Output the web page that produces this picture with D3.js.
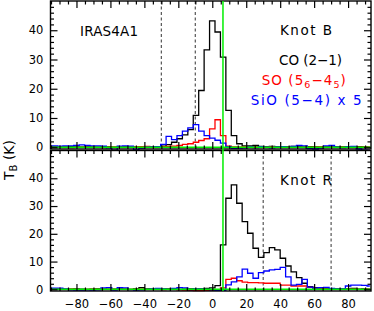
<!DOCTYPE html>
<html><head><meta charset="utf-8">
<script src="https://cdn.jsdelivr.net/npm/d3@7"></script>
<style>body{margin:0;background:#fff}svg{display:block}</style>
</head><body><svg id="c" width="374" height="311"></svg>
<script>
// channel velocities (km/s)
const velocity = [-96.0,-92.8,-89.6,-86.4,-83.2,-80.0,-76.8,-73.6,-70.4,-67.2,-64.0,-60.8,-57.6,-54.4,-51.2,-48.0,-44.8,-41.6,-38.4,-35.2,-32.0,-28.8,-25.6,-22.4,-19.2,-16.0,-12.8,-9.6,-6.4,-3.2,0.0,3.2,6.4,9.6,12.8,16.0,19.2,22.4,25.6,28.8,32.0,35.2,38.4,41.6,44.8,48.0,51.2,54.4,57.6,60.8,64.0,67.2,70.4,73.6,76.8,80.0,83.2,86.4,89.6,92.8];
// Knot B
const coB = [0.1,0.2,0.0,0.1,0.2,0.1,0.0,0.2,0.1,0.0,0.2,0.1,0.0,0.1,0.2,0.1,0.0,0.1,0.2,0.1,
 0.2,0.4,0.9,1.7,2.9,4.2,6.0,10.9,19.4,33.3,
 43.2,39.4,30.8,12.6,4.0,1.2,0.5,0.5,0.6,0.3,
 0.2,0.3,0.2,0.1,0.2,0.3,0.2,0.1,0.2,0.1,
 0.0,0.2,0.1,0.2,0.1,0.0,0.1,0.2,0.1,0.0];
const soB = [0.0,0.0,0.1,0.0,-0.1,0.0,0.0,0.1,0.0,0.0,-0.1,0.0,0.0,0.1,0.0,0.0,0.1,0.2,0.3,0.2,
 0.1,0.2,0.3,0.4,0.6,1.0,1.2,1.7,2.3,2.9,
 6.3,9.4,4.0,0.4,0.1,0.0,0.1,0.0,0.1,0.0,
 0.0,0.1,0.0,0.0,0.1,0.0,0.0,0.1,0.0,0.0,0.1,0.0,0.0,0.1,0.0,0.0,0.1,0.0,0.0,0.0];
const sioB = [0.5,0.5,0.4,0.5,0.5,0.6,0.8,0.6,0.5,0.5,0.4,-0.2,-1.1,0.4,0.5,0.4,-0.9,-0.3,0.0,0.1,
 0.2,1.0,3.7,2.6,4.0,5.5,6.6,7.7,5.5,4.0,
 3.1,2.4,1.4,0.2,-0.4,-0.3,-0.2,0.1,-0.1,0.2,
 0.0,-0.2,0.1,0.2,0.0,0.3,0.6,0.5,-0.5,-0.6,
 -0.3,0.5,0.6,0.1,-0.1,0.2,0.3,-0.6,-1.0,-1.1];
// Knot R
const coR = [0.1,0.2,0.1,0.0,0.1,0.2,0.1,0.0,0.1,0.2,0.1,0.0,0.1,0.2,0.1,0.0,0.2,0.6,0.2,0.1,
 0.0,0.1,0.2,0.1,0.0,0.1,0.2,0.1,0.2,0.3,
 0.5,1.3,16.0,32.8,37.6,31.0,24.4,20.2,14.8,11.5,
 13.2,15.0,14.2,11.2,8.4,6.3,4.2,2.2,1.0,0.6,
 0.3,0.2,0.1,0.2,0.1,0.2,0.3,0.1,0.2,0.1];
const soR = [0.0,0.1,0.0,0.0,0.1,0.0,-0.1,0.0,0.1,0.0,0.0,0.1,0.0,0.0,0.1,0.0,0.0,0.1,0.0,0.0,
 0.0,-0.1,0.0,0.0,-0.2,-0.3,-0.4,-0.5,-0.5,-0.4,
 -0.3,-0.2,0.5,3.6,4.0,3.1,2.6,2.4,2.4,2.3,
 2.2,2.2,2.2,1.5,1.5,1.2,1.2,1.2,0.7,0.3,
 0.2,0.1,0.1,0.0,0.1,0.0,0.1,0.0,0.0,0.1];
const sioR = [0.3,0.4,0.4,0.2,-0.2,-0.3,-0.3,-0.2,-0.3,-0.2,0.5,0.6,-0.3,0.6,0.5,-0.1,-0.3,-0.2,0.0,0.2,
 0.3,0.2,0.0,0.3,0.6,0.5,-0.1,0.2,0.1,0.0,
 -0.2,-0.4,-0.4,1.6,2.7,4.5,7.3,5.8,4.0,6.0,
 6.6,7.0,7.2,7.9,4.5,1.5,1.8,3.6,0.8,0.4,
 0.6,0.7,0.3,0.2,0.2,1.2,1.5,1.5,1.4,1.2];
const dashedB = [-30, -10];
const dashedR = [30, 70];
const vsys = 6.3;
const xMajor = [-80,-60,-40,-20,0,20,40,60,80];
const yMajor = [0,10,20,30,40];

const svg = d3.select("#c");
const font = "'DejaVu Sans', sans-serif";
const X0 = 50.5, X1 = 371;
const x = d3.scaleLinear().domain([-95.3, 93.5]).range([X0, X1]);

const xMinor = d3.range(-95, 94, 5).filter(v => v % 20 !== 0);
const yMinor = d3.range(0, 51, 2).filter(v => v % 10 !== 0);

svg.append("defs").append("clipPath").attr("id","clipx")
  .append("rect").attr("x", X0).attr("y", -5).attr("width", X1 - X0).attr("height", 320);

const panels = [
  {top: 1, bottom: 149, co: coB, so: soB, sio: sioB, dashed: dashedB, labels: true},
  {top: 150.5, bottom: 291, co: coR, so: soR, sio: sioR, dashed: dashedR, labels: false}
];

panels.forEach((p, pi) => {
  const y = d3.scaleLinear().domain([-0.6, 50]).range([p.bottom, p.top]);
  const g = svg.append("g");
  // dashed lines
  g.selectAll(".dash").data(p.dashed).join("line")
    .attr("x1", d => x(d)).attr("x2", d => x(d))
    .attr("y1", p.top).attr("y2", p.bottom)
    .attr("stroke", "#555").attr("stroke-width", 1.2).attr("stroke-dasharray", "3,2.5");
  // spectra
  const line = d3.line().x((d, i) => x(velocity[i])).y(d => y(d)).curve(d3.curveStep);
  const sp = g.append("g").attr("clip-path", "url(#clipx)");
  [[p.co, "#000"], [p.so, "#ff0000"], [p.sio, "#0000ff"]].forEach(([arr, col]) => {
    sp.append("path").attr("d", line(arr)).attr("fill", "none")
      .attr("stroke", col).attr("stroke-width", 1.3);
  });
  // zero line
  g.append("line").attr("x1", X0).attr("x2", X1).attr("y1", y(0)).attr("y2", y(0))
    .attr("stroke", "#00ee00").attr("stroke-width", 1.5);
  // frame
  g.append("rect").attr("x", X0).attr("y", p.top).attr("width", X1 - X0).attr("height", p.bottom - p.top)
    .attr("fill", "none").attr("stroke", "#000").attr("stroke-width", 1.4);

  const styleAxis = sel => { sel.select(".domain").remove(); sel.selectAll("line").attr("stroke","#000").attr("stroke-width",1.2); sel.selectAll("text").attr("font-family", font).attr("font-size", 11.5).attr("fill","#000"); };
  // x ticks bottom
  const xb = g.append("g").attr("transform", `translate(0,${p.bottom})`)
    .call(d3.axisBottom(x).tickValues(xMajor).tickSize(-7).tickPadding(8.5).tickFormat(pi === 1 ? d3.format("d") : ""));
  styleAxis(xb);
  const xbm = g.append("g").attr("transform", `translate(0,${p.bottom})`)
    .call(d3.axisBottom(x).tickValues(xMinor).tickSize(-3.5).tickFormat(""));
  styleAxis(xbm);
  // x ticks top
  const xt = g.append("g").attr("transform", `translate(0,${p.top})`)
    .call(d3.axisTop(x).tickValues(xMajor).tickSize(-7).tickFormat(""));
  styleAxis(xt);
  const xtm = g.append("g").attr("transform", `translate(0,${p.top})`)
    .call(d3.axisTop(x).tickValues(xMinor).tickSize(-3.5).tickFormat(""));
  styleAxis(xtm);
  // y ticks left
  const yl = g.append("g").attr("transform", `translate(${X0},0)`)
    .call(d3.axisLeft(y).tickValues(yMajor).tickSize(-7).tickPadding(7.2).tickFormat(d3.format("d")));
  styleAxis(yl);
  const ylm = g.append("g").attr("transform", `translate(${X0},0)`)
    .call(d3.axisLeft(y).tickValues(yMinor).tickSize(-3.5).tickFormat(""));
  styleAxis(ylm);
  // y ticks right
  const yr = g.append("g").attr("transform", `translate(${X1},0)`)
    .call(d3.axisRight(y).tickValues(yMajor).tickSize(-7).tickFormat(""));
  styleAxis(yr);
  const yrm = g.append("g").attr("transform", `translate(${X1},0)`)
    .call(d3.axisRight(y).tickValues(yMinor).tickSize(-3.5).tickFormat(""));
  styleAxis(yrm);
});

// systemic velocity line
svg.append("line").attr("x1", x(vsys)).attr("x2", x(vsys)).attr("y1", 1).attr("y2", 291)
  .attr("stroke", "#00ee00").attr("stroke-width", 1.5);

// labels
const addText = (txt, xx, yy, w, col) => svg.append("text").attr("x", xx).attr("y", yy)
  .attr("font-family", font).attr("font-size", 13.5).attr("fill", col)
  .attr("textLength", w).attr("lengthAdjust", "spacing").text(txt);
addText("IRAS4A1", 80, 35.7, 58, "#000");
addText("Knot B", 280, 35, 52, "#000");
addText("CO (2\u22121)", 279, 65, 63, "#000");
const so = svg.append("text").attr("x", 261.7).attr("y", 85).attr("font-family", font)
  .attr("font-size", 13.5).attr("fill", "#ff0000").attr("letter-spacing", 1.05);
so.append("tspan").text("SO (5");
so.append("tspan").attr("font-size", 9.5).attr("dy", 3).text("6");
so.append("tspan").attr("dy", -3).text("\u22124");
so.append("tspan").attr("font-size", 9.5).attr("dy", 3).text("5");
so.append("tspan").attr("dy", -3).text(")");
addText("SiO (5\u22124) x 5", 250.7, 105, 111, "#0000ff");
addText("Knot R", 280, 185, 52, "#000");

// y title
const yt = svg.append("text").attr("transform", "translate(14,160) rotate(-90)")
  .attr("text-anchor", "middle").attr("font-family", font).attr("font-size", 14).attr("fill", "#000");
yt.append("tspan").text("T");
yt.append("tspan").attr("font-size", 10).attr("dy", 3).text("B");
yt.append("tspan").attr("dy", -3).text(" (K)");
</script></body></html>
